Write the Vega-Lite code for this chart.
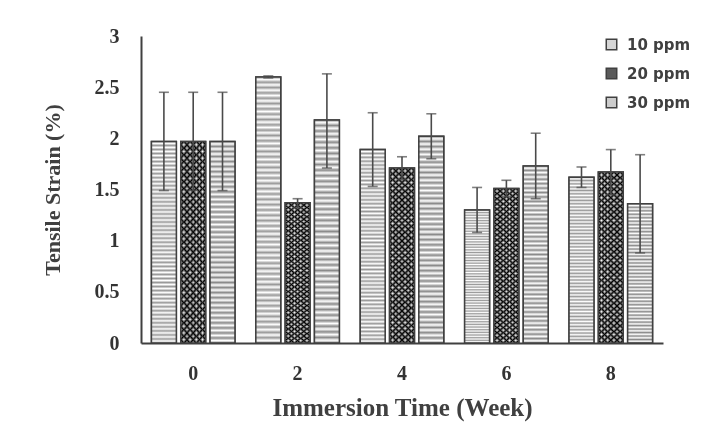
{
  "$schema": "https://vega.github.io/schema/vega-lite/v6.json",
  "width": 522,
  "height": 307,
  "autosize": {"type": "none"},
  "padding": {"left": 141, "top": 36, "right": 42, "bottom": 91},
  "background": "white",
  "config": {"view": {"stroke": null}},
  "data": {
    "values": [
      {"week": "0", "ppm": "10 ppm", "value": 1.97, "lo": 1.49, "hi": 2.45},
      {"week": "0", "ppm": "20 ppm", "value": 1.97, "lo": 1.49, "hi": 2.45},
      {"week": "0", "ppm": "30 ppm", "value": 1.97, "lo": 1.49, "hi": 2.45},
      {"week": "2", "ppm": "10 ppm", "value": 2.6, "lo": 2.59, "hi": 2.61},
      {"week": "2", "ppm": "20 ppm", "value": 1.37, "lo": 1.32, "hi": 1.41},
      {"week": "2", "ppm": "30 ppm", "value": 2.18, "lo": 1.71, "hi": 2.63},
      {"week": "4", "ppm": "10 ppm", "value": 1.89, "lo": 1.53, "hi": 2.25},
      {"week": "4", "ppm": "20 ppm", "value": 1.71, "lo": 1.6, "hi": 1.82},
      {"week": "4", "ppm": "30 ppm", "value": 2.02, "lo": 1.8, "hi": 2.24},
      {"week": "6", "ppm": "10 ppm", "value": 1.3, "lo": 1.08, "hi": 1.52},
      {"week": "6", "ppm": "20 ppm", "value": 1.51, "lo": 1.43, "hi": 1.59},
      {"week": "6", "ppm": "30 ppm", "value": 1.73, "lo": 1.41, "hi": 2.05},
      {"week": "8", "ppm": "10 ppm", "value": 1.62, "lo": 1.52, "hi": 1.72},
      {"week": "8", "ppm": "20 ppm", "value": 1.67, "lo": 1.45, "hi": 1.89},
      {"week": "8", "ppm": "30 ppm", "value": 1.36, "lo": 0.88, "hi": 1.84}
    ]
  },
  "encoding": {
    "x": {
      "field": "week", "type": "nominal", "sort": ["0", "2", "4", "6", "8"],
      "title": "Immersion Time (Week)",
      "scale": {"paddingInner": 0.2, "paddingOuter": 0.1},
      "axis": {
        "labelAngle": 0, "ticks": false, "grid": false,
        "domainColor": "#404040", "domainWidth": 2,
        "labelFont": "Liberation Serif", "labelFontWeight": "bold", "labelFontSize": 20, "labelColor": "#333333",
        "labelPadding": 20,
        "titleFont": "Liberation Serif", "titleFontWeight": "bold", "titleFontSize": 25, "titleColor": "#404040",
        "titlePadding": 12
      }
    },
    "xOffset": {
      "field": "ppm", "type": "nominal",
      "scale": {"domain": ["10 ppm", "20 ppm", "30 ppm"], "paddingInner": 0.15, "paddingOuter": 0}
    }
  },
  "layer": [
    {
      "mark": {"type": "bar", "stroke": "#404040", "strokeWidth": 1.5},
      "encoding": {
        "y": {
          "field": "value", "type": "quantitative", "title": "Tensile Strain (%)",
          "scale": {"domain": [0, 3]},
          "axis": {
            "values": [0, 0.5, 1, 1.5, 2, 2.5, 3], "format": "~g",
            "ticks": false, "grid": false,
            "domainColor": "#404040", "domainWidth": 2,
            "labelFont": "Liberation Serif", "labelFontWeight": "bold", "labelFontSize": 20, "labelColor": "#333333",
            "labelPadding": 22,
            "titleFont": "Liberation Serif", "titleFontWeight": "bold", "titleFontSize": 22, "titleColor": "#404040",
            "titlePadding": 30
          }
        },
        "fill": {
          "field": "ppm", "type": "nominal",
          "scale": {"domain": ["10 ppm", "20 ppm", "30 ppm"], "range": ["#d6d6d6", "#5a5a5a", "#cccccc"]},
          "legend": {
            "title": null, "orient": "none", "legendX": 463, "legendY": 1,
            "symbolType": "square", "symbolSize": 110,
            "symbolStrokeColor": "#404040", "symbolStrokeWidth": 1.5,
            "labelFont": "DejaVu Sans", "labelFontWeight": "bold", "labelFontSize": 15, "labelColor": "#404040",
            "labelOffset": 8, "rowPadding": 12, "padding": 0
          }
        }
      }
    },
    {
      "transform": [{"filter": "datum.ppm === '10 ppm'"}],
      "mark": {
        "type": "bar", "strokeWidth": 0,
        "fill": {"gradient": "linear", "x1": 0, "y1": 0, "x2": 0, "y2": 1, "stops": [
          {"offset":0,"color":"#999"},{"offset":0.01,"color":"#fff"},{"offset":0.02,"color":"#999"},{"offset":0.03,"color":"#fff"},{"offset":0.04,"color":"#999"},{"offset":0.05,"color":"#fff"},{"offset":0.06,"color":"#999"},{"offset":0.07,"color":"#fff"},{"offset":0.08,"color":"#999"},{"offset":0.09,"color":"#fff"},
          {"offset":0.1,"color":"#999"},{"offset":0.11,"color":"#fff"},{"offset":0.12,"color":"#999"},{"offset":0.13,"color":"#fff"},{"offset":0.14,"color":"#999"},{"offset":0.15,"color":"#fff"},{"offset":0.16,"color":"#999"},{"offset":0.17,"color":"#fff"},{"offset":0.18,"color":"#999"},{"offset":0.19,"color":"#fff"},
          {"offset":0.2,"color":"#999"},{"offset":0.21,"color":"#fff"},{"offset":0.22,"color":"#999"},{"offset":0.23,"color":"#fff"},{"offset":0.24,"color":"#999"},{"offset":0.25,"color":"#fff"},{"offset":0.26,"color":"#999"},{"offset":0.27,"color":"#fff"},{"offset":0.28,"color":"#999"},{"offset":0.29,"color":"#fff"},
          {"offset":0.3,"color":"#999"},{"offset":0.31,"color":"#fff"},{"offset":0.32,"color":"#999"},{"offset":0.33,"color":"#fff"},{"offset":0.34,"color":"#999"},{"offset":0.35,"color":"#fff"},{"offset":0.36,"color":"#999"},{"offset":0.37,"color":"#fff"},{"offset":0.38,"color":"#999"},{"offset":0.39,"color":"#fff"},
          {"offset":0.4,"color":"#999"},{"offset":0.41,"color":"#fff"},{"offset":0.42,"color":"#999"},{"offset":0.43,"color":"#fff"},{"offset":0.44,"color":"#999"},{"offset":0.45,"color":"#fff"},{"offset":0.46,"color":"#999"},{"offset":0.47,"color":"#fff"},{"offset":0.48,"color":"#999"},{"offset":0.49,"color":"#fff"},
          {"offset":0.5,"color":"#999"},{"offset":0.51,"color":"#fff"},{"offset":0.52,"color":"#999"},{"offset":0.53,"color":"#fff"},{"offset":0.54,"color":"#999"},{"offset":0.55,"color":"#fff"},{"offset":0.56,"color":"#999"},{"offset":0.57,"color":"#fff"},{"offset":0.58,"color":"#999"},{"offset":0.59,"color":"#fff"},
          {"offset":0.6,"color":"#999"},{"offset":0.61,"color":"#fff"},{"offset":0.62,"color":"#999"},{"offset":0.63,"color":"#fff"},{"offset":0.64,"color":"#999"},{"offset":0.65,"color":"#fff"},{"offset":0.66,"color":"#999"},{"offset":0.67,"color":"#fff"},{"offset":0.68,"color":"#999"},{"offset":0.69,"color":"#fff"},
          {"offset":0.7,"color":"#999"},{"offset":0.71,"color":"#fff"},{"offset":0.72,"color":"#999"},{"offset":0.73,"color":"#fff"},{"offset":0.74,"color":"#999"},{"offset":0.75,"color":"#fff"},{"offset":0.76,"color":"#999"},{"offset":0.77,"color":"#fff"},{"offset":0.78,"color":"#999"},{"offset":0.79,"color":"#fff"},
          {"offset":0.8,"color":"#999"},{"offset":0.81,"color":"#fff"},{"offset":0.82,"color":"#999"},{"offset":0.83,"color":"#fff"},{"offset":0.84,"color":"#999"},{"offset":0.85,"color":"#fff"},{"offset":0.86,"color":"#999"},{"offset":0.87,"color":"#fff"},{"offset":0.88,"color":"#999"},{"offset":0.89,"color":"#fff"},
          {"offset":0.9,"color":"#999"},{"offset":0.91,"color":"#fff"},{"offset":0.92,"color":"#999"},{"offset":0.93,"color":"#fff"},{"offset":0.94,"color":"#999"},{"offset":0.95,"color":"#fff"},{"offset":0.96,"color":"#999"},{"offset":0.97,"color":"#fff"},{"offset":0.98,"color":"#999"},{"offset":0.99,"color":"#fff"},
          {"offset":1,"color":"#999"}
        ]}
      },
      "encoding": {"y": {"field": "value", "type": "quantitative", "title": "Tensile Strain (%)"}}
    },
    {
      "transform": [{"filter": "datum.ppm === '30 ppm'"}],
      "mark": {
        "type": "bar", "strokeWidth": 0,
        "fill": {"gradient": "linear", "x1": 0, "y1": 0, "x2": 0, "y2": 1, "stops": [
          {"offset":0,"color":"#8a8a8a"},{"offset":0.0125,"color":"#fff"},{"offset":0.025,"color":"#8a8a8a"},{"offset":0.0375,"color":"#fff"},{"offset":0.05,"color":"#8a8a8a"},{"offset":0.0625,"color":"#fff"},{"offset":0.075,"color":"#8a8a8a"},{"offset":0.0875,"color":"#fff"},
          {"offset":0.1,"color":"#8a8a8a"},{"offset":0.1125,"color":"#fff"},{"offset":0.125,"color":"#8a8a8a"},{"offset":0.1375,"color":"#fff"},{"offset":0.15,"color":"#8a8a8a"},{"offset":0.1625,"color":"#fff"},{"offset":0.175,"color":"#8a8a8a"},{"offset":0.1875,"color":"#fff"},
          {"offset":0.2,"color":"#8a8a8a"},{"offset":0.2125,"color":"#fff"},{"offset":0.225,"color":"#8a8a8a"},{"offset":0.2375,"color":"#fff"},{"offset":0.25,"color":"#8a8a8a"},{"offset":0.2625,"color":"#fff"},{"offset":0.275,"color":"#8a8a8a"},{"offset":0.2875,"color":"#fff"},
          {"offset":0.3,"color":"#8a8a8a"},{"offset":0.3125,"color":"#fff"},{"offset":0.325,"color":"#8a8a8a"},{"offset":0.3375,"color":"#fff"},{"offset":0.35,"color":"#8a8a8a"},{"offset":0.3625,"color":"#fff"},{"offset":0.375,"color":"#8a8a8a"},{"offset":0.3875,"color":"#fff"},
          {"offset":0.4,"color":"#8a8a8a"},{"offset":0.4125,"color":"#fff"},{"offset":0.425,"color":"#8a8a8a"},{"offset":0.4375,"color":"#fff"},{"offset":0.45,"color":"#8a8a8a"},{"offset":0.4625,"color":"#fff"},{"offset":0.475,"color":"#8a8a8a"},{"offset":0.4875,"color":"#fff"},
          {"offset":0.5,"color":"#8a8a8a"},{"offset":0.5125,"color":"#fff"},{"offset":0.525,"color":"#8a8a8a"},{"offset":0.5375,"color":"#fff"},{"offset":0.55,"color":"#8a8a8a"},{"offset":0.5625,"color":"#fff"},{"offset":0.575,"color":"#8a8a8a"},{"offset":0.5875,"color":"#fff"},
          {"offset":0.6,"color":"#8a8a8a"},{"offset":0.6125,"color":"#fff"},{"offset":0.625,"color":"#8a8a8a"},{"offset":0.6375,"color":"#fff"},{"offset":0.65,"color":"#8a8a8a"},{"offset":0.6625,"color":"#fff"},{"offset":0.675,"color":"#8a8a8a"},{"offset":0.6875,"color":"#fff"},
          {"offset":0.7,"color":"#8a8a8a"},{"offset":0.7125,"color":"#fff"},{"offset":0.725,"color":"#8a8a8a"},{"offset":0.7375,"color":"#fff"},{"offset":0.75,"color":"#8a8a8a"},{"offset":0.7625,"color":"#fff"},{"offset":0.775,"color":"#8a8a8a"},{"offset":0.7875,"color":"#fff"},
          {"offset":0.8,"color":"#8a8a8a"},{"offset":0.8125,"color":"#fff"},{"offset":0.825,"color":"#8a8a8a"},{"offset":0.8375,"color":"#fff"},{"offset":0.85,"color":"#8a8a8a"},{"offset":0.8625,"color":"#fff"},{"offset":0.875,"color":"#8a8a8a"},{"offset":0.8875,"color":"#fff"},
          {"offset":0.9,"color":"#8a8a8a"},{"offset":0.9125,"color":"#fff"},{"offset":0.925,"color":"#8a8a8a"},{"offset":0.9375,"color":"#fff"},{"offset":0.95,"color":"#8a8a8a"},{"offset":0.9625,"color":"#fff"},{"offset":0.975,"color":"#8a8a8a"},{"offset":0.9875,"color":"#fff"},
          {"offset":1,"color":"#8a8a8a"}
        ]}
      },
      "encoding": {"y": {"field": "value", "type": "quantitative", "title": "Tensile Strain (%)"}}
    },
    {
      "transform": [{"filter": "datum.ppm === '20 ppm'"}],
      "mark": {
        "type": "bar", "strokeWidth": 0,
        "fill": {"gradient": "linear", "x1": 0, "y1": 0, "x2": 0, "y2": 1, "stops": [
          {"offset":0,"color":"#1a1a1a"},{"offset":0.0167,"color":"#fff"},{"offset":0.0333,"color":"#1a1a1a"},{"offset":0.05,"color":"#fff"},{"offset":0.0667,"color":"#1a1a1a"},{"offset":0.0833,"color":"#fff"},
          {"offset":0.1,"color":"#1a1a1a"},{"offset":0.1167,"color":"#fff"},{"offset":0.1333,"color":"#1a1a1a"},{"offset":0.15,"color":"#fff"},{"offset":0.1667,"color":"#1a1a1a"},{"offset":0.1833,"color":"#fff"},
          {"offset":0.2,"color":"#1a1a1a"},{"offset":0.2167,"color":"#fff"},{"offset":0.2333,"color":"#1a1a1a"},{"offset":0.25,"color":"#fff"},{"offset":0.2667,"color":"#1a1a1a"},{"offset":0.2833,"color":"#fff"},
          {"offset":0.3,"color":"#1a1a1a"},{"offset":0.3167,"color":"#fff"},{"offset":0.3333,"color":"#1a1a1a"},{"offset":0.35,"color":"#fff"},{"offset":0.3667,"color":"#1a1a1a"},{"offset":0.3833,"color":"#fff"},
          {"offset":0.4,"color":"#1a1a1a"},{"offset":0.4167,"color":"#fff"},{"offset":0.4333,"color":"#1a1a1a"},{"offset":0.45,"color":"#fff"},{"offset":0.4667,"color":"#1a1a1a"},{"offset":0.4833,"color":"#fff"},
          {"offset":0.5,"color":"#1a1a1a"},{"offset":0.5167,"color":"#fff"},{"offset":0.5333,"color":"#1a1a1a"},{"offset":0.55,"color":"#fff"},{"offset":0.5667,"color":"#1a1a1a"},{"offset":0.5833,"color":"#fff"},
          {"offset":0.6,"color":"#1a1a1a"},{"offset":0.6167,"color":"#fff"},{"offset":0.6333,"color":"#1a1a1a"},{"offset":0.65,"color":"#fff"},{"offset":0.6667,"color":"#1a1a1a"},{"offset":0.6833,"color":"#fff"},
          {"offset":0.7,"color":"#1a1a1a"},{"offset":0.7167,"color":"#fff"},{"offset":0.7333,"color":"#1a1a1a"},{"offset":0.75,"color":"#fff"},{"offset":0.7667,"color":"#1a1a1a"},{"offset":0.7833,"color":"#fff"},
          {"offset":0.8,"color":"#1a1a1a"},{"offset":0.8167,"color":"#fff"},{"offset":0.8333,"color":"#1a1a1a"},{"offset":0.85,"color":"#fff"},{"offset":0.8667,"color":"#1a1a1a"},{"offset":0.8833,"color":"#fff"},
          {"offset":0.9,"color":"#1a1a1a"},{"offset":0.9167,"color":"#fff"},{"offset":0.9333,"color":"#1a1a1a"},{"offset":0.95,"color":"#fff"},{"offset":0.9667,"color":"#1a1a1a"},{"offset":0.9833,"color":"#fff"},
          {"offset":1,"color":"#1a1a1a"}
        ]}
      },
      "encoding": {"y": {"field": "value", "type": "quantitative", "title": "Tensile Strain (%)"}}
    },
    {
      "transform": [{"filter": "datum.ppm === '20 ppm'"}],
      "mark": {
        "type": "bar", "strokeWidth": 0, "blend": "difference",
        "fill": {"gradient": "linear", "x1": 0, "y1": 0, "x2": 1, "y2": 0, "stops": [
          {"offset":0,"color":"#fff"},{"offset":0.125,"color":"#000"},{"offset":0.25,"color":"#fff"},{"offset":0.375,"color":"#000"},{"offset":0.5,"color":"#fff"},{"offset":0.625,"color":"#000"},{"offset":0.75,"color":"#fff"},{"offset":0.875,"color":"#000"},{"offset":1,"color":"#fff"}
        ]}
      },
      "encoding": {"y": {"field": "value", "type": "quantitative", "title": "Tensile Strain (%)"}}
    },
    {
      "mark": {"type": "bar", "fill": null, "fillOpacity": 0, "stroke": "#404040", "strokeWidth": 1.5},
      "encoding": {"y": {"field": "value", "type": "quantitative", "title": "Tensile Strain (%)"}}
    },
    {
      "mark": {"type": "rule", "color": "#4a4a4a", "strokeWidth": 1.6},
      "encoding": {
        "y": {"field": "lo", "type": "quantitative", "title": "Tensile Strain (%)"},
        "y2": {"field": "hi"}
      }
    },
    {
      "mark": {"type": "tick", "color": "#4a4a4a", "size": 10, "thickness": 1.6},
      "encoding": {"y": {"field": "hi", "type": "quantitative", "title": "Tensile Strain (%)"}}
    },
    {
      "mark": {"type": "tick", "color": "#4a4a4a", "size": 10, "thickness": 1.6},
      "encoding": {"y": {"field": "lo", "type": "quantitative", "title": "Tensile Strain (%)"}}
    }
  ]
}
